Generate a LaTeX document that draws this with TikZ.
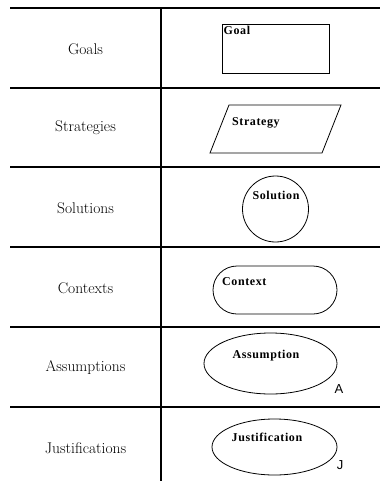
\documentclass[tikz,border=0pt]{standalone}
\usepackage{fontspec}
\newfontfamily\shapefont{Liberation Serif}[UprightFont=* Bold, LetterSpace=5]
\newfontfamily\tagfont{Liberation Sans}
\begin{document}
\begin{tikzpicture}[x=1pt,y=-1pt,
  rowlabel/.style={font=\fontsize{15.5}{18}\selectfont, anchor=center, inner sep=0pt},
  shapelabel/.style={font=\shapefont\fontsize{12}{14}\selectfont, inner sep=0pt},
  tag/.style={font=\tagfont\fontsize{13}{15}\selectfont, inner sep=0pt},
  rule/.style={line width=1.1pt},
  outline/.style={line width=0.8pt}]
\useasboundingbox (0,0) rectangle (380,482);
% table rules
\foreach \yy in {8,88,167,247,327,407} \draw[rule] (10,\yy) -- (380,\yy);
\draw[rule] (161,8) -- (161,481);
% row labels
\node[rowlabel] (lgoals) at (85.5,49) {Goals};
\node[rowlabel] (lstrat) at (85.5,128) {Strategies};
\node[rowlabel] (lsol) at (85.5,208) {Solutions};
\node[rowlabel] (lctx) at (85.5,288) {Contexts};
\node[rowlabel] (lass) at (85.5,368) {Assumptions};
\node[rowlabel] (ljus) at (85.5,448) {Justifications};
% goal
\draw[outline] (222,24) rectangle (329,73);
\node[shapelabel, anchor=north west] (goal) at (223.5,26) {Goal};
% strategy
\draw[outline] (229,105) -- (341,105) -- (322,153) -- (210,153) -- cycle;
\node[shapelabel, anchor=west] (strategy) at (232,123) {Strategy};
% solution
\draw[outline] (275.5,209) circle[radius=33];
\node[shapelabel] (solution) at (276,195) {Solution};
% context
\draw[outline, rounded corners=24pt] (213,266) rectangle (337,314);
\node[shapelabel, anchor=west] (context) at (222,282) {Context};
% assumption
\draw[outline] (270.5,363.5) ellipse[x radius=66.5, y radius=30.5];
\node[shapelabel] (assumption) at (266,356) {Assumption};
\node[tag] (tagA) at (339,389) {A};
% justification
\draw[outline] (274.5,447) ellipse[x radius=62.5, y radius=28];
\node[shapelabel] (justification) at (267,437) {Justification};
\node[tag] (tagJ) at (340,465) {J};
\end{tikzpicture}
\end{document}
